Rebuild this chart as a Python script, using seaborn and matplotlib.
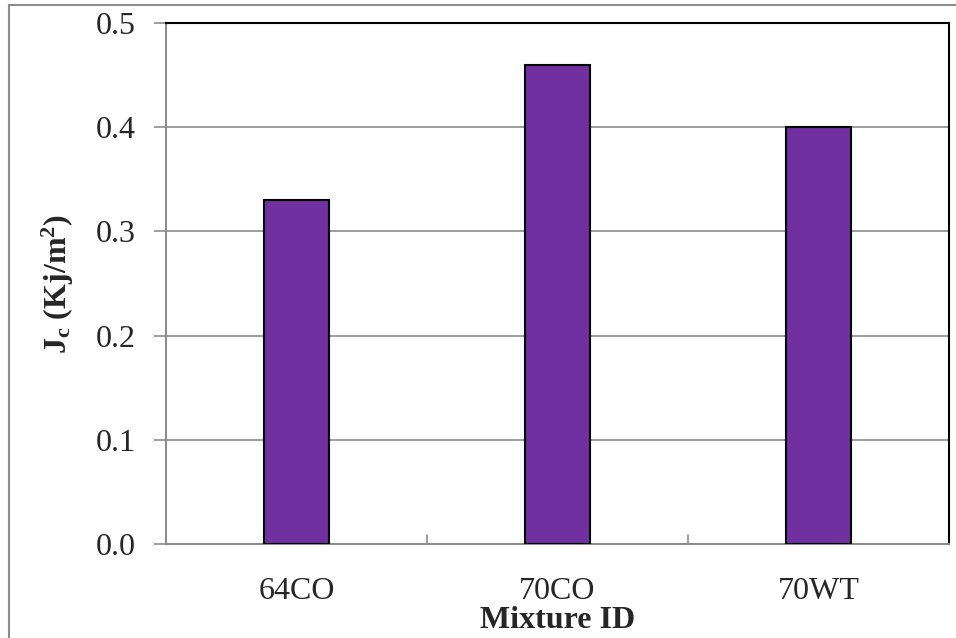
import matplotlib
matplotlib.use("Agg")
import matplotlib.pyplot as plt
from matplotlib.patches import Rectangle
import seaborn as sns
import pandas as pd

mixtures = ["64CO", "70CO", "70WT"]
jc_values = [0.33, 0.46, 0.40]
y_ticks = [0.0, 0.1, 0.2, 0.3, 0.4, 0.5]

sns.set_style("white")
plt.rcParams["font.family"] = ["Liberation Serif", "DejaVu Serif"]
plt.rcParams["mathtext.fontset"] = "custom"
plt.rcParams["mathtext.rm"] = "Liberation Serif"
plt.rcParams["mathtext.bf"] = "Liberation Serif:bold"

df = pd.DataFrame({"Mixture ID": mixtures, "Jc": jc_values})

W, H = 956, 638
FS = 23
fig = plt.figure(figsize=(W / 100, H / 100), dpi=100)
ax = fig.add_axes([166 / W, 1 - 544 / H, (949 - 166) / W, (544 - 23) / H])

# outer chart frame
fig.patches.append(Rectangle((9 / W, -0.01), 1.0, 1 - 5 / H + 0.01,
                             transform=fig.transFigure, fill=False,
                             edgecolor="#8c8c8c", linewidth=1.5, zorder=0))

sns.barplot(data=df, x="Mixture ID", y="Jc", ax=ax, color="#7030A0",
            saturation=1, width=0.25, edgecolor="black", linewidth=1.5,
            zorder=3)

ax.set_ylim(0, 0.5)
ax.set_xlim(-0.5, 2.5)
ax.set_yticks(y_ticks)
ax.set_yticklabels([f"{v:.1f}" for v in y_ticks], fontsize=FS)
ax.yaxis.grid(True, color="#8c8c8c", linewidth=1.2, zorder=0)
ax.set_axisbelow(True)

ax.set_xticks([0, 1, 2])
ax.set_xticklabels(mixtures, fontsize=FS)
ax.tick_params(axis="x", length=0, pad=24)
ax.tick_params(axis="y", length=9, width=1.2, color="#8c8c8c", direction="out", pad=13, left=True)

# category boundary ticks along the bottom
for xb in [0.5, 1.5]:
    ax.plot([xb, xb], [0, 0.009], color="#8c8c8c", lw=1.2, clip_on=False, zorder=4)

ax.spines["left"].set_color("#8c8c8c")
ax.spines["bottom"].set_color("#8c8c8c")
ax.spines["top"].set_color("black")
ax.spines["right"].set_color("black")
for s in ax.spines.values():
    s.set_linewidth(1.5)

ax.set_xlabel("Mixture ID", fontsize=FS, fontweight="bold", labelpad=0)
ax.set_ylabel(r"$\mathbf{J_c}$ (Kj/m$\mathbf{^2}$)", fontsize=FS,
              fontweight="bold", labelpad=14)

fig.savefig("out.png", dpi=100)
